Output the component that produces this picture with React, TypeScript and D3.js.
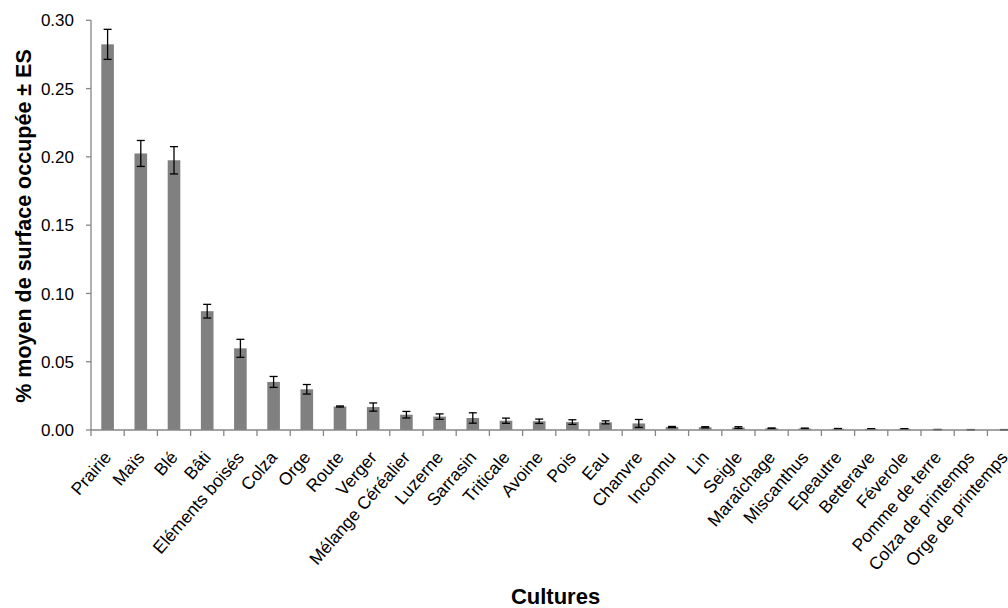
import React from "react";
import * as d3 from "d3";

const categories = [
  "Prairie", "Maïs", "Blé", "Bâti", "Eléments boisés", "Colza", "Orge", "Route", "Verger",
  "Mélange Céréalier", "Luzerne", "Sarrasin", "Triticale", "Avoine", "Pois", "Eau", "Chanvre",
  "Inconnu", "Lin", "Seigle", "Maraîchage", "Miscanthus", "Epeautre", "Betterave", "Féverole",
  "Pomme de terre", "Colza de printemps", "Orge de printemps",
];
const means = [
  0.2824, 0.2025, 0.1975, 0.0870, 0.0598, 0.0352, 0.0298, 0.0172, 0.0168,
  0.0112, 0.0098, 0.0088, 0.0068, 0.0064, 0.0058, 0.0056, 0.0048,
  0.0022, 0.0020, 0.0018, 0.0012, 0.0011, 0.0009, 0.0008, 0.0008,
  0.0003, 0.0002, 0.0002,
];
const errors = [
  0.0110, 0.0095, 0.0100, 0.0050, 0.0066, 0.0040, 0.0035, 0.0004, 0.0030,
  0.0024, 0.0020, 0.0038, 0.0019, 0.0016, 0.0017, 0.0011, 0.0029,
  0.0004, 0.0004, 0.0006, 0.0003, 0.0003, 0.0002, 0.0002, 0.0002,
  0.0001, 0.0001, 0.0001,
];
const yTicks = [0, 0.05, 0.1, 0.15, 0.2, 0.25, 0.3];

export default function App() {
  const left = 91;
  const top = 20.3;
  const bottom = 430;
  const band = 33.2;
  const x = d3.scaleBand<string>().domain(categories).range([left, left + band * categories.length]).paddingInner(0.62).paddingOuter(0.31);
  const y = d3.scaleLinear().domain([0, 0.3]).range([bottom, top]);
  const font = "'Liberation Sans', Arial, sans-serif";
  const bw = x.bandwidth();
  const axisColor = "#868686";
  return (
    <svg width={1008} height={608} style={{ position: "absolute", left: 0, top: 0 }} fontFamily={font}>
      <rect width={1008} height={608} fill="#fff" />
      {categories.map((c, i) => {
        const cx = (x(c) as number) + bw / 2;
        const v = means[i];
        const e = errors[i];
        return (
          <g key={c}>
            <rect x={x(c)} y={y(v)} width={bw} height={bottom - y(v)} fill="#808080" />
            <line x1={cx} x2={cx} y1={y(v + e)} y2={y(Math.max(0, v - e))} stroke="#000" strokeWidth={1.3} />
            <line x1={cx - 4} x2={cx + 4} y1={y(v + e)} y2={y(v + e)} stroke="#000" strokeWidth={1.3} />
            <line x1={cx - 4} x2={cx + 4} y1={y(Math.max(0, v - e))} y2={y(Math.max(0, v - e))} stroke="#000" strokeWidth={1.3} />
          </g>
        );
      })}
      <line x1={left} x2={left} y1={top} y2={bottom} stroke={axisColor} strokeWidth={1.3} />
      <line x1={left} x2={1008} y1={bottom} y2={bottom} stroke={axisColor} strokeWidth={1.3} />
      {yTicks.map((t) => (
        <g key={t}>
          <line x1={left - 5} x2={left} y1={y(t)} y2={y(t)} stroke={axisColor} strokeWidth={1.3} />
          <text x={74} y={y(t)} dy="0.36em" textAnchor="end" fontSize={17} fill="#000">
            {t.toFixed(2)}
          </text>
        </g>
      ))}
      {d3.range(categories.length + 1).map((i) => (
        <line key={i} x1={left + i * band} x2={left + i * band} y1={bottom} y2={bottom + 6} stroke={axisColor} strokeWidth={1.3} />
      ))}
      {categories.map((c) => {
        const cx = (x(c) as number) + bw / 2;
        return (
          <text key={c} transform={`translate(${cx},${bottom + 24}) rotate(-49)`} textAnchor="end" dy="0.35em" fontSize={17.5} fill="#000">
            {c}
          </text>
        );
      })}
      <text x={555.5} y={604} textAnchor="middle" fontSize={22} fontWeight="bold" fill="#000">Cultures</text>
      <text transform={`translate(31,226) rotate(-90)`} textAnchor="middle" fontSize={21.5} fontWeight="bold" fill="#000">
        % moyen de surface occupée ± ES
      </text>
    </svg>
  );
}
